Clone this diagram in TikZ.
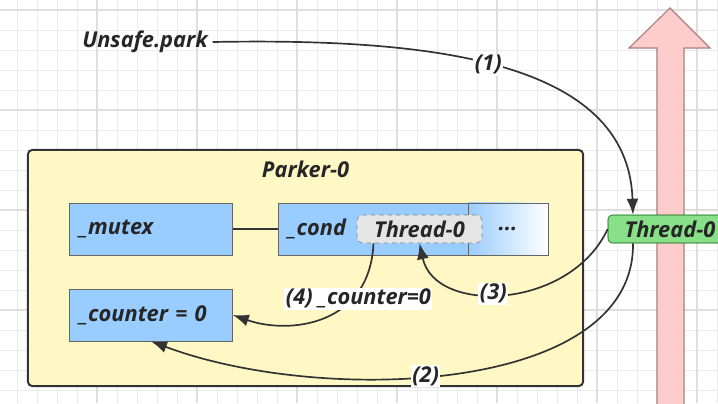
\documentclass[tikz,border=0pt]{standalone}
\usepackage{fontspec}
\setmainfont{Open Sans}
\usetikzlibrary{positioning,arrows.meta}
\definecolor{cellblue}{HTML}{99CCFF}
\definecolor{parkyellow}{HTML}{FFF8C5}
\definecolor{threadgreen}{HTML}{88E088}
\definecolor{flowpink}{HTML}{FFCCCC}
\begin{document}
\begin{tikzpicture}[x=0.025cm,y=-0.025cm,
txt/.style={font=\fontsize{15.5}{18}\selectfont\bfseries\itshape,text=black!85},
cell/.style={txt,draw=black!60,fill=cellblue,minimum width=4.075cm,minimum height=1.3cm,inner xsep=0.25cm,text width=3.575cm,align=left},
outer/.style={draw=black!80,line width=1.4pt,rounded corners=3pt,fill=parkyellow,minimum width=13.875cm,minimum height=5.9cm},
slot/.style={txt,draw=black!50,dashed,rounded corners=4pt,fill=black!10,minimum width=3.125cm,minimum height=0.7cm,inner sep=0pt},
thread/.style={txt,draw=green!35!black,rounded corners=3pt,fill=threadgreen,minimum width=3.1cm,minimum height=0.7cm,inner sep=0pt},
lbl/.style={txt,fill=white,inner sep=1pt},
conn/.style={-{Latex[length=4mm,width=3mm]},line width=1.2pt,draw=black!80},
minor/.style={draw=black!8,line width=0.5pt},
major/.style={draw=black!13,line width=0.8pt}]
\clip (0,0) rectangle (718,403);
\fill[white] (0,0) rectangle (718,403);
% background grid
\foreach \gx in {17,37,...,717} \draw[minor] (\gx,0) -- (\gx,403);
\foreach \gy in {10,30,...,390} \draw[minor] (0,\gy) -- (718,\gy);
\foreach \gx in {97,197,...,697} \draw[major] (\gx,0) -- (\gx,403);
\foreach \gy in {10,110,...,310} \draw[major] (0,\gy) -- (718,\gy);
% time line
\draw[draw=red!30!black!50,fill=flowpink,line width=0.8pt] (657,410) -- (657,48) -- (629,48) -- (670,8) -- (710,48) -- (684,48) -- (684,410) -- cycle;
\node[txt] (park) at (145,42) {Unsafe.park};
\node[outer] (parker) at (305.5,268) {};
\node[txt] (ptitle) at ([yshift=-0.5cm]parker.north) {Parker-0};
\node[cell] (mutex) at (151,229) {\_mutex};
\node[cell] (counter) at (151,315) {\_counter = 0};
\node[cell,minimum width=6.75cm,text width=6.25cm] (cond) at (413,229) {\_cond};
\node[txt,draw=black!60,left color=cellblue,right color=white,minimum width=2cm,minimum height=1.3cm] (more) at (508,229) {...};
\node[slot] (tq) at (419.5,229) {Thread-0};
\node[thread] (green) at (670,229) {Thread-0};
\draw[line width=1.2pt,draw=black!80] (mutex) -- (cond);
\draw[conn] (park.east) .. controls (430,38) and (628,60) .. ([xshift=-0.925cm]green.north) node[lbl,pos=0.47] {(1)};
\draw[conn] ([xshift=-0.925cm]green.south) .. controls (635,395) and (320,405) .. (counter.south) node[lbl,pos=0.55] {(2)};
\draw[conn] (green.west) .. controls (570,310) and (435,315) .. (tq.south) node[lbl,pos=0.55] {(3)};
\draw[conn] ([xshift=-1.15cm]tq.south) .. controls (370,325) and (290,335) .. (counter.east) node[lbl,pos=0.3,xshift=0.15cm] {(4) \_counter=0};
\end{tikzpicture}
\end{document}
